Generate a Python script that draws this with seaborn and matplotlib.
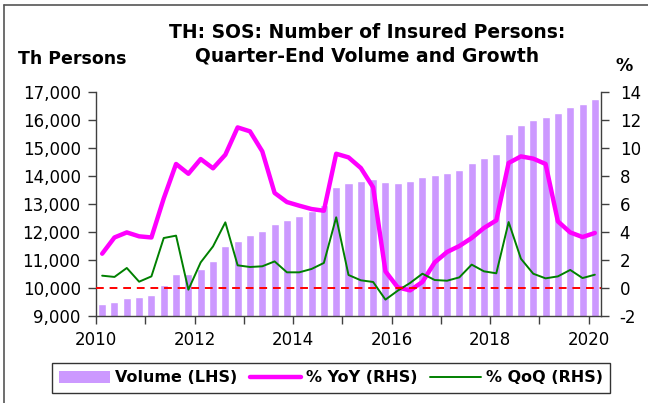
import numpy as np
import pandas as pd
import seaborn as sns
import matplotlib.pyplot as plt
from matplotlib.lines import Line2D
from matplotlib.patches import Patch
from matplotlib.ticker import FuncFormatter, MultipleLocator

# quarter-end data, Q1 2010 .. Q1 2020
quarters = [2010.125 + 0.25 * i for i in range(41)]

volume = [9429, 9511, 9654, 9689, 9761, 10118, 10511, 10487, 10679, 10975,
          11511, 11689, 11879, 12046, 12286, 12415, 12571, 12761, 12964, 13618,
          13736, 13832, 13893, 13786, 13761, 13807, 13950, 14036, 14107, 14225,
          14464, 14643, 14796, 15511, 15821, 16000, 16107, 16236, 16450, 16571,
          16736]

yoy = [2.45, 3.61, 3.97, 3.69, 3.61, 6.4, 8.86, 8.16, 9.21, 8.55,
       9.52, 11.47, 11.19, 9.76, 6.79, 6.14, 5.88, 5.64, 5.52, 9.59,
       9.33, 8.57, 7.19, 1.19, 0.04, -0.17, 0.43, 1.83, 2.57, 3.0,
       3.57, 4.29, 4.83, 8.93, 9.40, 9.24, 8.86, 4.76, 3.97, 3.64,
       3.93]

qoq = [0.88, 0.79, 1.43, 0.45, 0.83, 3.57, 3.74, -0.12, 1.83, 2.97,
       4.69, 1.62, 1.5, 1.55, 1.9, 1.12, 1.12, 1.36, 1.79, 5.05,
       0.93, 0.55, 0.43, -0.83, -0.19, 0.36, 1.02, 0.57, 0.52, 0.76,
       1.67, 1.19, 1.05, 4.71, 2.09, 1.02, 0.69, 0.83, 1.29, 0.71,
       0.95]

year_ticks = list(range(2010, 2021))

df = pd.DataFrame({'Quarter': quarters, 'Volume': volume, 'YoY': yoy, 'QoQ': qoq})

sns.set_style("white")
plt.rcParams['font.family'] = ['DejaVu Sans']
plt.rcParams['text.color'] = 'black'

bar_col = '#cc99ff'
yoy_col = '#ff00ff'
qoq_col = '#008000'

fig = plt.figure(figsize=(6.48, 4.03), dpi=100)
ax = fig.add_axes([96 / 648, 1 - 316 / 403, 505 / 648, 224 / 403])

sns.barplot(data=df, x='Quarter', y='Volume', native_scale=True, width=0.65,
            color=bar_col, saturation=1, errorbar=None, ax=ax)
ax.set_xlim(2010, 2020.25)
ax.set_ylim(9000, 17000)
ax.set_xlabel('')
ax.set_ylabel('')

ax2 = ax.twinx()
sns.lineplot(data=df, x='Quarter', y='YoY', color=yoy_col, linewidth=3.2, ax=ax2)
sns.lineplot(data=df, x='Quarter', y='QoQ', color=qoq_col, linewidth=1.4, ax=ax2)
ax2.axhline(0, color='red', linestyle=(0, (4, 3)), linewidth=1.4)
ax2.set_ylim(-2, 14)
ax2.set_xlim(2010, 2020.25)
ax2.set_ylabel('')

# axis styling
for a in (ax, ax2):
    a.spines['top'].set_visible(False)
    for s in a.spines.values():
        s.set_color('#404040')
        s.set_linewidth(1.0)
ax.spines['right'].set_visible(False)
ax2.spines['left'].set_visible(False)
ax2.spines['bottom'].set_visible(False)

ax.yaxis.set_major_locator(MultipleLocator(1000))
ax.yaxis.set_major_formatter(FuncFormatter(lambda v, p: f'{v:,.0f}'))
ax2.yaxis.set_major_locator(MultipleLocator(2))
ax2.yaxis.set_major_formatter(FuncFormatter(lambda v, p: f'{v:.0f}'))

ax.set_xticks(year_ticks)
ax.set_xticklabels([str(y) if y % 2 == 0 else '' for y in year_ticks])

ax.tick_params(axis='both', direction='out', length=6, width=1, color='#404040',
               labelsize=12, labelcolor='black')
ax.tick_params(axis='x', bottom=True, pad=5)
ax.tick_params(axis='y', left=True, pad=5)
ax2.tick_params(axis='y', direction='out', length=5.5, width=1, color='#404040',
                labelsize=12, labelcolor='black', right=True, pad=8)
ax2.tick_params(axis='x', bottom=False, labelbottom=False)

# titles
fig.text(0.567, 1 - 33 / 403, 'TH: SOS: Number of Insured Persons:', ha='center',
         va='center', fontsize=13.5, fontweight='bold', color='black')
fig.text(0.567, 1 - 56 / 403, 'Quarter-End Volume and Growth', ha='center',
         va='center', fontsize=13.5, fontweight='bold', color='black')
fig.text(18 / 648, 1 - 59 / 403, 'Th Persons', ha='left', va='center',
         fontsize=12.5, fontweight='bold', color='black')
fig.text(624 / 648, 1 - 66 / 403, '%', ha='center', va='center',
         fontsize=12.5, fontweight='bold', color='black')

# legend
handles = [Patch(facecolor=bar_col, edgecolor='none'),
           Line2D([], [], color=yoy_col, linewidth=3.2),
           Line2D([], [], color=qoq_col, linewidth=1.4)]
labels = ['Volume (LHS)', '% YoY (RHS)', '% QoQ (RHS)']
leg = fig.legend(handles, labels, loc='center', bbox_to_anchor=(331 / 648, 1 - 378 / 403),
                 ncol=3, frameon=True, fancybox=False, edgecolor='black',
                 prop={'weight': 'bold', 'size': 11.5}, handlelength=3.2,
                 handletextpad=0.3, columnspacing=0.8, borderpad=0.45)
leg.get_frame().set_linewidth(1.0)
for t in leg.get_texts():
    t.set_color('black')

# outer border of the chart
fig.add_artist(Line2D([4 / 648, 4 / 648], [0, 1 - 5 / 403], transform=fig.transFigure,
                      color='#555555', linewidth=1.2))
fig.add_artist(Line2D([4 / 648, 1], [1 - 5 / 403, 1 - 5 / 403], transform=fig.transFigure,
                      color='#555555', linewidth=1.2))

fig.savefig('out.png', dpi=100)
